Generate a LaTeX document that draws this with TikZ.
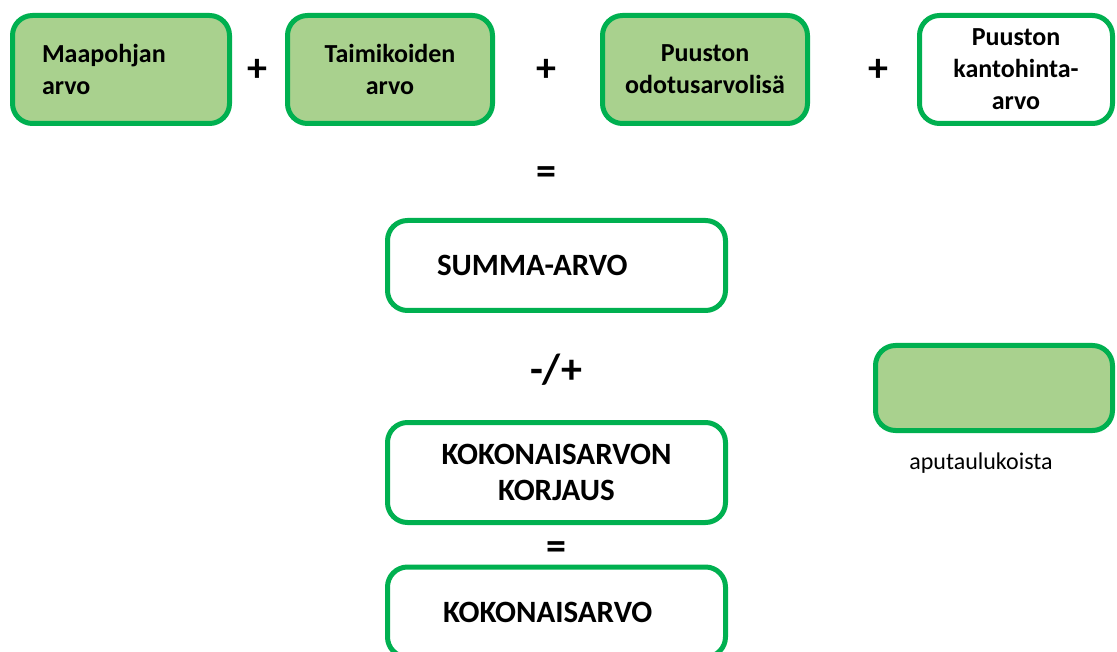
\documentclass[tikz,border=0pt]{standalone}
\usepackage{fontspec}
\setmainfont{Carlito}
\definecolor{boxgreen}{RGB}{0,176,80}
\definecolor{boxfill}{RGB}{169,209,142}

\begin{document}
\begin{tikzpicture}[x=1pt,y=-1pt,
        arvobox/.style={draw=boxgreen, line width=5pt, rounded corners=20pt, inner sep=0pt,
            font=\fontsize{26}{32}\selectfont\bfseries, align=center},
        greenbox/.style={arvobox, fill=boxfill},
        whitebox/.style={arvobox, fill=white},
        bigtext/.style={font=\fontsize{31}{36}\selectfont\bfseries},
        oper/.style={inner sep=0pt, font=\fontsize{40}{44}\selectfont\bfseries}]
        \clip (0, 0) rectangle (1117, 652);

        \node[greenbox, minimum width=217pt, minimum height=108pt, align=left, text width=158pt, inner xsep=29.5pt] (maapohja) at (121, 69.5) {Maapohjan\\arvo};
        \node[greenbox, minimum width=205pt, minimum height=108pt] (taimikko) at (390, 69.5) {Taimikoiden\\arvo};
        \node[greenbox, minimum width=205pt, minimum height=108pt] (odotus) at (705, 69.5) {Puuston\\odotusarvolisä};
        \node[whitebox, minimum width=193pt, minimum height=108pt] (kanto) at (1016, 69.5) {Puuston\\kantohinta-\\arvo};

        \node[oper] (plusa) at (257, 70) {+};
        \node[oper] (plusb) at (546, 70) {+};
        \node[oper] (plusc) at (878, 70) {+};
        \node[oper] (eqa) at (546, 176) {=};

        \node[whitebox, bigtext, minimum width=338pt, minimum height=90pt, align=left, text width=239pt, inner xsep=49.5pt] (summa) at (556.5, 265.5) {SUMMA-ARVO};
        \node[oper, font=\fontsize{42}{46}\selectfont\bfseries] (korj) at (556, 370) {-/+};
        \node[whitebox, bigtext, minimum width=338pt, minimum height=100pt] (korjaus) at (556.5, 472.5) {KOKONAISARVON\\KORJAUS};
        \node[oper] (eqb) at (556, 551) {=};
        \node[whitebox, bigtext, minimum width=338pt, minimum height=90pt, align=left, text width=227pt, inner xsep=55.5pt] (koko) at (556.5, 612) {KOKONAISARVO};

        \node[greenbox, minimum width=237pt, minimum height=85pt] (selite) at (994, 388) {};
        \node[font=\fontsize{24}{28}\selectfont] (apu) at (981, 463) {aputaulukoista};

    \end{tikzpicture}
\end{document}
